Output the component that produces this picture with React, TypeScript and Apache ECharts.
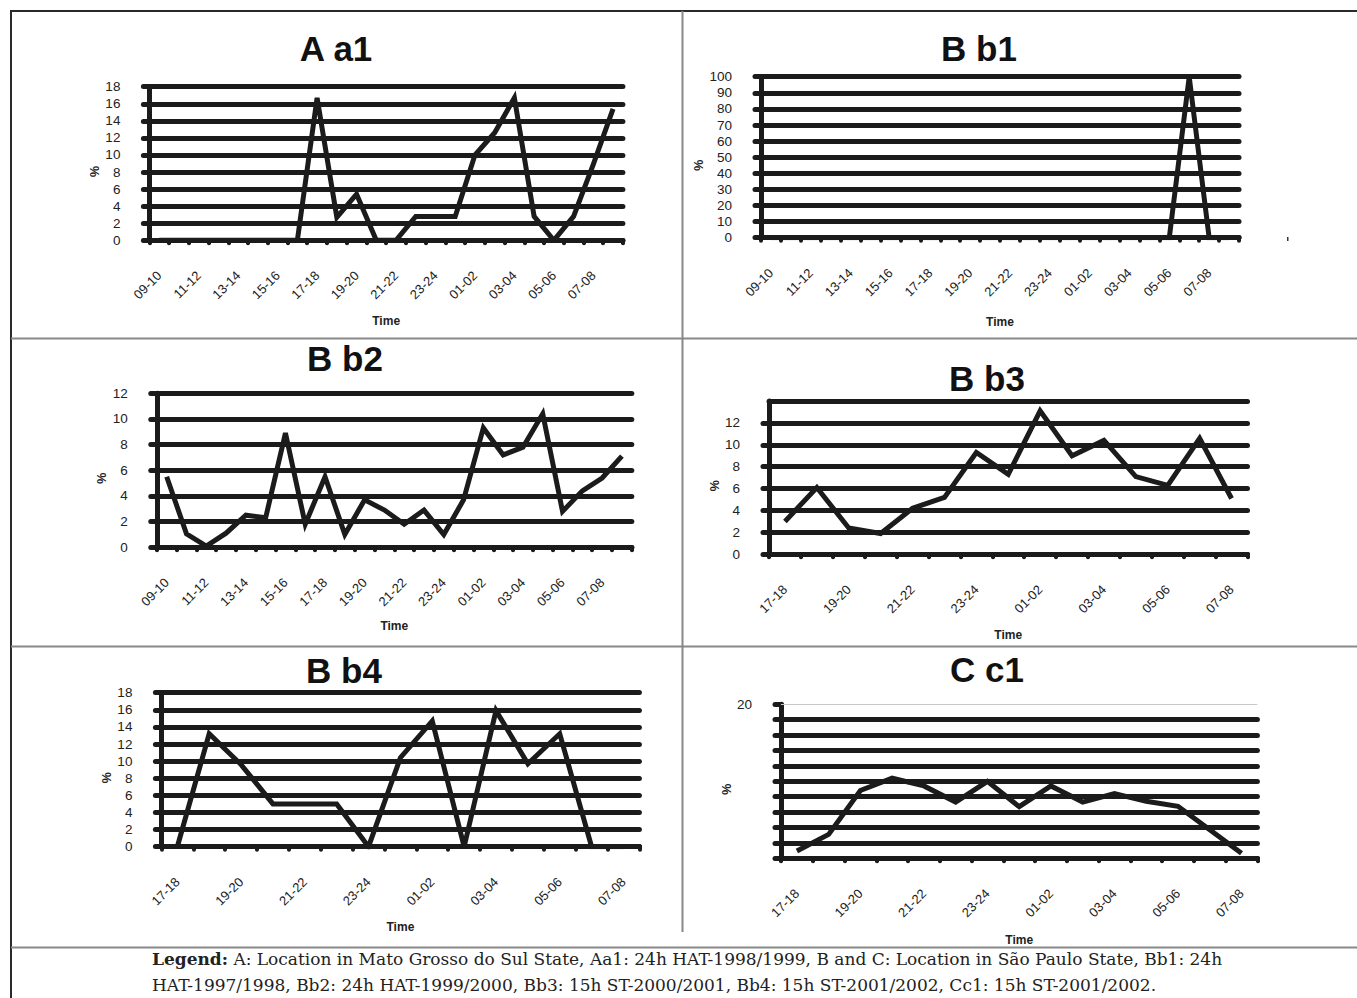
import React, { useEffect, useRef } from "react";
import * as echarts from "echarts";

// ---- categories ----
const hours24 = [
  "09-10", "10-11", "11-12", "12-13", "13-14", "14-15", "15-16", "16-17",
  "17-18", "18-19", "19-20", "20-21", "21-22", "22-23", "23-24", "00-01",
  "01-02", "02-03", "03-04", "04-05", "05-06", "06-07", "07-08", "08-09",
];
const hours15 = [
  "17-18", "18-19", "19-20", "20-21", "21-22", "22-23", "23-24", "00-01",
  "01-02", "02-03", "03-04", "04-05", "05-06", "06-07", "07-08",
];

// ---- series values (%) ----
const aa1Values = [0, 0, 0, 0, 0, 0, 0, 0, 16.7, 2.7, 5.4, 0, 0, 2.8, 2.8, 2.8, 10, 12.6, 16.7, 2.8, 0, 2.8, 8.9, 15.4];
const bb1Values = [0, 0, 0, 0, 0, 0, 0, 0, 0, 0, 0, 0, 0, 0, 0, 0, 0, 0, 0, 0, 0, 100, 0, 0];
const bb2Values = [5.5, 1.05, 0.1, 1.1, 2.5, 2.3, 8.9, 1.8, 5.5, 1.0, 3.7, 2.9, 1.8, 2.9, 1.0, 3.7, 9.3, 7.2, 7.8, 10.4, 2.8, 4.4, 5.4, 7.1];
const bb3Values = [3.0, 6.1, 2.4, 1.9, 4.2, 5.2, 9.3, 7.3, 13.1, 9.0, 10.4, 7.1, 6.3, 10.6, 5.1];
const bb4Values = [0, 13.2, 9.6, 5, 5, 5, 0, 10.4, 14.7, 0, 15.9, 9.7, 13.2, 0, 0];
const cc1Values = [0.95, 3.1, 8.8, 10.4, 9.4, 7.3, 10.0, 6.7, 9.4, 7.3, 8.4, 7.4, 6.75, 3.7, 0.65];

// ---- texts ----
const panelTitles = ["A a1", "B b1", "B b2", "B b3", "B b4", "C c1"];
const xAxisName = "Time";
const yAxisName = "%";
const legendLine1Bold = "Legend:";
const legendLine1 = " A: Location in Mato Grosso do Sul State, Aa1: 24h HAT-1998/1999, B and C: Location in São Paulo State, Bb1: 24h";
const legendLine2 = "HAT-1997/1998, Bb2: 24h HAT-1999/2000, Bb3: 15h ST-2000/2001, Bb4: 15h ST-2001/2002, Cc1: 15h ST-2001/2002.";

const INK = "#1b1b1b";
const FONT = "Liberation Sans, Arial, Helvetica, sans-serif";
const SERIF = "DejaVu Serif, serif";
const LW = 5;

type Panel = {
  title: string;
  cats: string[];
  values: number[];
  max: number;
  interval: number;
  grid: { left: number; top: number; width: number; height: number };
  titleAt: [number, number];
  xGap: number;
  yGap: number;
  hideMaxLabel?: boolean;
  onlyMaxLabel?: boolean;
};

const panels: Panel[] = [
  { title: panelTitles[0], cats: hours24, values: aa1Values, max: 18, interval: 2,
    grid: { left: 149.4, top: 86.7, width: 473.5, height: 153.6 }, titleAt: [336, 48], xGap: 75, yGap: 48 },
  { title: panelTitles[1], cats: hours24, values: bb1Values, max: 100, interval: 10,
    grid: { left: 761, top: 76.7, width: 478, height: 161 }, titleAt: [979, 48], xGap: 78, yGap: 53 },
  { title: panelTitles[2], cats: hours24, values: bb2Values, max: 12, interval: 2,
    grid: { left: 156.8, top: 393.3, width: 475, height: 154 }, titleAt: [345, 358], xGap: 73, yGap: 47 },
  { title: panelTitles[3], cats: hours15, values: bb3Values, max: 14, interval: 2,
    grid: { left: 769, top: 401, width: 478.5, height: 153.3 }, titleAt: [987, 378], xGap: 75, yGap: 43, hideMaxLabel: true },
  { title: panelTitles[4], cats: hours15, values: bb4Values, max: 18, interval: 2,
    grid: { left: 161.4, top: 692.7, width: 478, height: 154 }, titleAt: [344, 670], xGap: 74, yGap: 44 },
  { title: panelTitles[5], cats: hours15, values: cc1Values, max: 20, interval: 2,
    grid: { left: 781, top: 704.3, width: 476.4, height: 154 }, titleAt: [987, 669], xGap: 76, yGap: 44, onlyMaxLabel: true },
];

function buildOption(): any {
  const grid = panels.map((p) => ({ ...p.grid, containLabel: false, outerBoundsMode: "none" }));
  const title = panels.map((p) => ({
    text: p.title,
    left: p.titleAt[0],
    top: p.titleAt[1],
    textAlign: "center",
    textVerticalAlign: "middle",
    padding: 0,
    textStyle: { fontFamily: FONT, fontSize: 35, fontWeight: "bold", color: "#111" },
  }));
  const xAxis = panels.map((p, i) => ({
    type: "category",
    gridIndex: i,
    data: p.cats,
    boundaryGap: true,
    axisLine: { show: true, lineStyle: { color: INK, width: LW, cap: "round" } },
    axisTick: { show: true, interval: 0, length: 3, lineStyle: { color: INK, width: 4, cap: "round" } },
    axisLabel: { interval: 1, rotate: 45, margin: 33, fontSize: 13, color: "#222", fontFamily: FONT },
    splitLine: { show: false },
    name: xAxisName,
    nameLocation: "middle",
    nameGap: p.xGap,
    nameTextStyle: { fontFamily: FONT, fontWeight: "bold", fontSize: 12, color: "#222" },
  }));
  const yAxis = panels.map((p, i) => ({
    type: "value",
    gridIndex: i,
    min: 0,
    max: p.max,
    interval: p.interval,
    axisLine: { show: true, lineStyle: { color: INK, width: LW, cap: "round" } },
    axisTick: { show: true, inside: false, length: 6, lineStyle: { color: INK, width: LW, cap: "round" } },
    axisLabel: {
      margin: 29,
      fontSize: 13.5,
      color: "#222",
      fontFamily: FONT,
      showMaxLabel: p.hideMaxLabel ? false : true,
      formatter: p.onlyMaxLabel ? (v: number) => (v === p.max ? String(v) : "") : (v: number) => String(v),
    },
    splitLine: {
      show: true,
      showMaxLine: p.onlyMaxLabel ? false : true,
      lineStyle: { color: INK, width: LW, cap: "round" },
    },
    name: yAxisName,
    nameLocation: "middle",
    nameRotate: 90,
    nameGap: p.yGap,
    nameTextStyle: { fontFamily: FONT, fontWeight: "bold", fontSize: 12.5, color: "#222", padding: [0, 16, 0, 0] },
  }));
  const series = panels.map((p, i) => ({
    type: "line",
    name: p.title,
    xAxisIndex: i,
    yAxisIndex: i,
    data: p.values,
    symbol: "none",
    showSymbol: false,
    silent: true,
    z: 5,
    lineStyle: { color: INK, width: LW, join: "miter", miterLimit: 4, cap: "butt" },
    markLine: p.onlyMaxLabel
      ? {
          silent: true,
          symbol: ["none", "none"],
          label: { show: false },
          lineStyle: { color: "#c8c8c8", width: 1, type: "solid" },
          data: [{ yAxis: p.max }],
          z: 1,
        }
      : undefined,
  }));

  const border = "#2a2a2a";
  const divider = "#888888";
  const graphic = [
    { type: "line", shape: { x1: 10, y1: 11, x2: 1357, y2: 11 }, style: { stroke: border, lineWidth: 2 } },
    { type: "line", shape: { x1: 11, y1: 10, x2: 11, y2: 998 }, style: { stroke: border, lineWidth: 2 } },
    { type: "line", shape: { x1: 682.5, y1: 11, x2: 682.5, y2: 932 }, style: { stroke: divider, lineWidth: 2 } },
    { type: "line", shape: { x1: 11, y1: 338.5, x2: 1357, y2: 338.5 }, style: { stroke: divider, lineWidth: 2 } },
    { type: "line", shape: { x1: 11, y1: 646.5, x2: 1357, y2: 646.5 }, style: { stroke: divider, lineWidth: 2 } },
    { type: "line", shape: { x1: 11, y1: 947.5, x2: 1357, y2: 947.5 }, style: { stroke: divider, lineWidth: 2 } },
    { type: "rect", shape: { x: 1287, y: 237, width: 1.5, height: 4 }, style: { fill: "#333" } },
    {
      type: "text",
      x: 152,
      y: 959,
      style: {
        text: "{b|" + legendLine1Bold + "}" + legendLine1,
        fontFamily: SERIF,
        fontSize: 17,
        fill: "#222",
        verticalAlign: "middle",
        rich: { b: { fontFamily: SERIF, fontSize: 17, fontWeight: "bold", fill: "#222" } },
      },
    },
    {
      type: "text",
      x: 152,
      y: 985,
      style: {
        text: legendLine2,
        fontFamily: SERIF,
        fontSize: 17,
        fill: "#222",
        verticalAlign: "middle",
      },
    },
  ];

  return {
    animation: false,
    backgroundColor: "#ffffff",
    textStyle: { fontFamily: FONT },
    title,
    grid,
    xAxis,
    yAxis,
    series,
    graphic,
  };
}

export default function App() {
  const ref = useRef<HTMLDivElement>(null);
  useEffect(() => {
    if (!ref.current) return;
    const chart = echarts.init(ref.current, undefined, { renderer: "svg" });
    chart.setOption(buildOption());
    return () => chart.dispose();
  }, []);
  return (
    <div
      ref={ref}
      style={{ position: "absolute", left: 0, top: 0, width: 1357, height: 998, background: "#fff" }}
    />
  );
}
